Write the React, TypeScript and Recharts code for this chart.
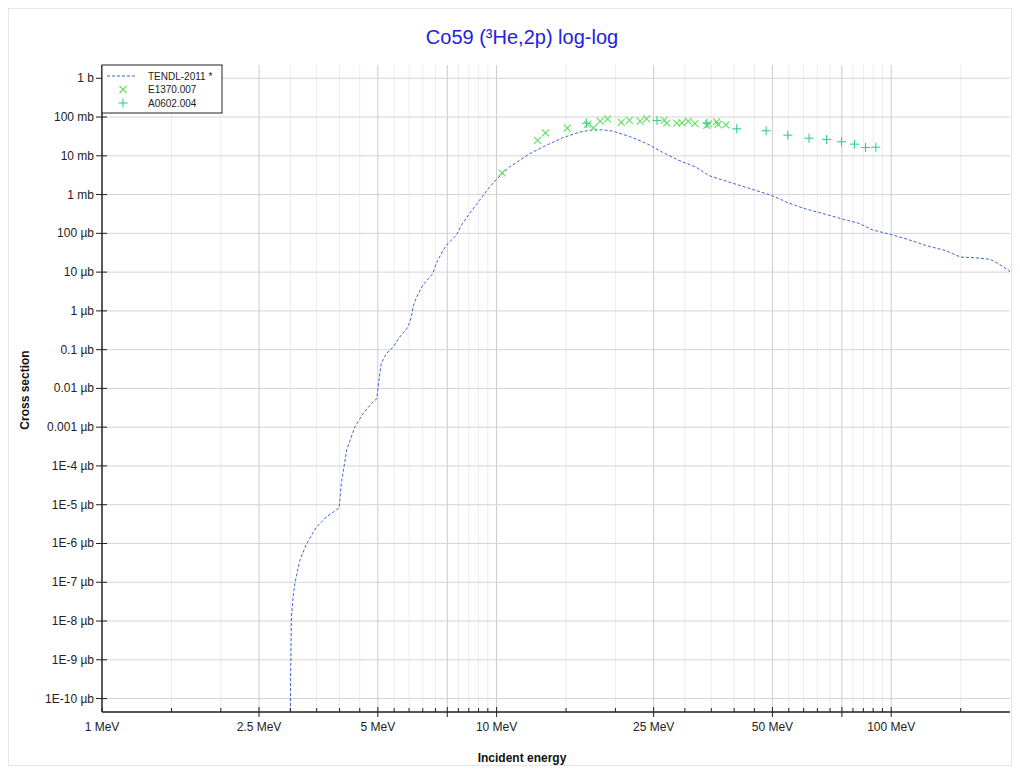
import React from 'react';
import { ComposedChart, Line, Scatter, XAxis, YAxis, ReferenceLine } from 'recharts';

// ---------- data (energy in MeV, cross section in barns) ----------
const tendlEnergy = [3.0, 3.005, 3.02, 3.05, 3.08, 3.17, 3.3, 3.49, 3.7, 3.99, 4.04, 4.17, 4.37, 4.58, 4.86, 4.97, 5.02, 5.1, 5.25, 5.46, 5.68, 5.96, 6.08, 6.14, 6.26, 6.5, 6.89, 7.03, 7.31, 7.52, 7.9, 8.13, 8.53, 9.05, 9.59, 9.97, 10.77, 11.2, 12.1, 13.34, 14.7, 16.2, 17.5, 18.55, 19.7, 21.7, 23.9, 26.3, 29.0, 32.0, 34.5, 38.8, 42.8, 49.8, 55.1, 60.7, 68.2, 75.2, 82.8, 89.5, 100, 110.9, 122.2, 137.2, 149.7, 163.4, 178.3, 187.1, 198.5, 200];
const tendlXs = [1e-18, 2.5e-16, 1.26e-14, 4.2e-14, 9.1e-14, 3.6e-13, 9.8e-13, 2.6e-12, 4.8e-12, 8.3e-12, 3.5e-11, 2.6e-10, 1.0e-9, 2.2e-9, 4.5e-9, 5.4e-9, 1.3e-8, 4.4e-8, 7.8e-8, 1.15e-7, 2.1e-7, 3.8e-7, 6.9e-7, 1.26e-6, 2.2e-6, 4.6e-6, 9.1e-6, 1.66e-5, 3.6e-5, 5.4e-5, 8.9e-5, 1.58e-4, 3.2e-4, 7.1e-4, 1.55e-3, 2.4e-3, 5.1e-3, 6.6e-3, 1.12e-2, 1.85e-2, 2.92e-2, 4.07e-2, 4.68e-2, 4.68e-2, 4.33e-2, 3.16e-2, 2.12e-2, 1.24e-2, 7.6e-3, 5.1e-3, 3.1e-3, 2.1e-3, 1.55e-3, 9.5e-4, 6.0e-4, 4.27e-4, 3.1e-4, 2.34e-4, 1.82e-4, 1.23e-4, 9.3e-5, 6.8e-5, 4.9e-5, 3.6e-5, 2.45e-5, 2.34e-5, 2.14e-5, 1.64e-5, 1.1e-5, 1.0e-5];

const e1370Energy = [10.32, 12.7, 13.3, 15.1, 17.0, 17.6, 18.3, 19.1, 20.7, 21.7, 23.1, 24.0, 26.6, 27.0, 28.6, 29.5, 30.6, 31.8, 34.1, 34.4, 36.1, 36.4, 38.1];
const e1370Xs = [3.63e-3, 2.49e-2, 3.93e-2, 5.16e-2, 6.46e-2, 5.28e-2, 7.83e-2, 9.0e-2, 7.24e-2, 8.17e-2, 7.83e-2, 9.0e-2, 8.17e-2, 6.95e-2, 6.95e-2, 7.1e-2, 7.7e-2, 6.8e-2, 6.07e-2, 6.7e-2, 7.55e-2, 6.46e-2, 6.3e-2];

const a0602Energy = [16.9, 25.5, 34.1, 40.6, 48.2, 54.7, 61.9, 68.6, 74.8, 80.7, 86.1, 91.4];
const a0602Xs = [6.95e-2, 8.17e-2, 6.95e-2, 4.98e-2, 4.43e-2, 3.41e-2, 2.85e-2, 2.64e-2, 2.3e-2, 2.0e-2, 1.64e-2, 1.67e-2];

// ---------- ticks ----------
const xTickValues = [1, 1.5, 2, 2.5, 3, 3.5, 4, 4.5, 5, 5.5, 6, 6.5, 7, 7.5, 8, 8.5, 9, 9.5, 10, 15, 20, 25, 30, 35, 40, 45, 50, 55, 60, 65, 70, 75, 80, 85, 90, 95, 100, 150];
const xMajorValues = [2.5, 5, 7.5, 10, 25, 50, 75, 100];
const xLabelValues = [1, 2.5, 5, 10, 25, 50, 100];
const xLabels = ['1 MeV', '2.5 MeV', '5 MeV', '10 MeV', '25 MeV', '50 MeV', '100 MeV'];

const yTickValues = [1, 1e-1, 1e-2, 1e-3, 1e-4, 1e-5, 1e-6, 1e-7, 1e-8, 1e-9, 1e-10, 1e-11, 1e-12, 1e-13, 1e-14, 1e-15, 1e-16];
const yLabels = ['1 b', '100 mb', '10 mb', '1 mb', '100 µb', '10 µb', '1 µb', '0.1 µb', '0.01 µb', '0.001 µb', '1E-4 µb', '1E-5 µb', '1E-6 µb', '1E-7 µb', '1E-8 µb', '1E-9 µb', '1E-10 µb'];

const xDomain = [1, 200];
const yDomain = [4.5e-17, 2.2];

const tendl = tendlEnergy.map((x, i) => ({ x, y: tendlXs[i] }));
const e1370 = e1370Energy.map((x, i) => ({ x, y: e1370Xs[i] }));
const a0602 = a0602Energy.map((x, i) => ({ x, y: a0602Xs[i] }));

const FONT = '"Liberation Sans", Arial, Helvetica, sans-serif';
const AXIS = '#222';
const LINE_COLOR = '#3f62e0';
const X_COLOR = '#5ee05e';
const PLUS_COLOR = '#35cf8e';

const near = (a: number, b: number) => Math.abs(a - b) <= Math.abs(b) * 1e-6;
const idxOf = (arr: number[], v: number) => arr.findIndex((a) => near(v, a));

const BottomTick = (props: any) => {
  const { x, y, payload } = props;
  const v = payload.value;
  const major = idxOf(xMajorValues, v) >= 0;
  const li = idxOf(xLabelValues, v);
  return (
    <g>
      {major ? (
        <line x1={x} x2={x} y1={y - 5} y2={y + 5} stroke={AXIS} strokeWidth={1} />
      ) : (
        <line x1={x} x2={x} y1={y - 4} y2={y} stroke={AXIS} strokeWidth={1} />
      )}
      {li >= 0 && (
        <text x={x} y={y + 19} textAnchor="middle" fontSize={12} fontFamily={FONT} fill="#222">
          {xLabels[li]}
        </text>
      )}
    </g>
  );
};

const TopTick = (props: any) => {
  const { x, y, payload } = props;
  const major = idxOf(xMajorValues, payload.value) >= 0;
  return <line x1={x} x2={x} y1={y} y2={y + (major ? 5 : 4)} stroke={AXIS} strokeWidth={1} />;
};

const LeftTick = (props: any) => {
  const { x, y, payload } = props;
  const i = idxOf(yTickValues, payload.value);
  return (
    <g>
      <line x1={x - 6} x2={x + 5} y1={y} y2={y} stroke={AXIS} strokeWidth={1} />
      <text x={x - 8} y={y + 4} textAnchor="end" fontSize={12} fontFamily={FONT} fill="#222">
        {i >= 0 ? yLabels[i] : ''}
      </text>
    </g>
  );
};

const RightTick = (props: any) => {
  const { x, y } = props;
  return <line x1={x - 5} x2={x} y1={y} y2={y} stroke={AXIS} strokeWidth={1} />;
};

const XMark = (props: any) => {
  const { cx, cy } = props;
  const s = 3.5;
  return (
    <g stroke={X_COLOR} strokeWidth={1.1}>
      <line x1={cx - s} y1={cy - s} x2={cx + s} y2={cy + s} />
      <line x1={cx - s} y1={cy + s} x2={cx + s} y2={cy - s} />
    </g>
  );
};

const PlusMark = (props: any) => {
  const { cx, cy } = props;
  const s = 4.5;
  return (
    <g stroke={PLUS_COLOR} strokeWidth={1.1}>
      <line x1={cx - s} y1={cy} x2={cx + s} y2={cy} />
      <line x1={cx} y1={cy - s} x2={cx} y2={cy + s} />
    </g>
  );
};

export default function App() {
  return (
    <div
      style={{
        position: 'relative',
        width: 1004,
        height: 758,
        border: '1px solid #e6e6e6',
        boxSizing: 'border-box',
        background: '#fff',
        fontFamily: FONT,
      }}
    >
      <ComposedChart width={1002} height={756} margin={{ top: 56, right: 1, bottom: 0, left: 0 }}>
        <XAxis
          dataKey="x"
          type="number"
          scale="log"
          domain={xDomain}
          allowDataOverflow
          ticks={xTickValues}
          interval={0}
          tick={<BottomTick />}
          tickLine={false}
          tickSize={0}
          tickMargin={0}
          height={53}
          axisLine={{ stroke: AXIS, strokeWidth: 1.5 }}
        />
        <XAxis
          xAxisId="top"
          orientation="top"
          dataKey="x"
          type="number"
          scale="log"
          domain={xDomain}
          allowDataOverflow
          ticks={xTickValues}
          interval={0}
          tick={<TopTick />}
          tickLine={false}
          tickSize={0}
          tickMargin={0}
          height={0}
          axisLine={{ stroke: AXIS, strokeWidth: 1.5 }}
        />
        <YAxis
          type="number"
          scale="log"
          domain={yDomain}
          allowDataOverflow
          ticks={yTickValues}
          interval={0}
          tick={<LeftTick />}
          tickLine={false}
          tickSize={0}
          tickMargin={0}
          width={93}
          axisLine={{ stroke: AXIS, strokeWidth: 1.5 }}
        />
        <YAxis
          yAxisId="right"
          orientation="right"
          type="number"
          scale="log"
          domain={yDomain}
          allowDataOverflow
          ticks={yTickValues}
          interval={0}
          tick={<RightTick />}
          tickLine={false}
          tickSize={0}
          tickMargin={0}
          width={0}
          axisLine={{ stroke: AXIS, strokeWidth: 2 }}
        />
        {xTickValues
          .filter((v) => v > 1)
          .map((v) => (
            <ReferenceLine
              key={'vx' + v}
              x={v}
              stroke={idxOf(xMajorValues, v) >= 0 ? '#cbcbcb' : '#ededed'}
              strokeWidth={1}
              ifOverflow="hidden"
            />
          ))}
        {yTickValues.map((v) => (
          <ReferenceLine key={'hy' + v} y={v} stroke="#d4d4d4" strokeWidth={1} ifOverflow="hidden" />
        ))}
        <Line
          data={tendl}
          dataKey="y"
          type="linear"
          stroke={LINE_COLOR}
          strokeWidth={1}
          strokeDasharray="3 2"
          dot={false}
          activeDot={false}
          isAnimationActive={false}
        />
        <Scatter data={e1370} dataKey="y" shape={<XMark />} isAnimationActive={false} />
        <Scatter data={a0602} dataKey="y" shape={<PlusMark />} isAnimationActive={false} />
      </ComposedChart>

      <svg
        width={1002}
        height={756}
        style={{ position: 'absolute', left: 0, top: 0, pointerEvents: 'none' }}
      >
        <text x={513} y={35} textAnchor="middle" fontSize={20} fontFamily={FONT} fill="#2222dd">
          Co59 (³He,2p) log-log
        </text>
        <text x={513} y={753} textAnchor="middle" fontSize={12} fontWeight="bold" fontFamily={FONT} fill="#111">
          Incident energy
        </text>
        <text
          x={20}
          y={381}
          textAnchor="middle"
          fontSize={12}
          fontWeight="bold"
          fontFamily={FONT}
          fill="#111"
          transform="rotate(-90, 20, 381)"
        >
          Cross section
        </text>
        <g transform="translate(93, 56)">
          <rect x={0} y={0} width={120} height={48} fill="#fff" stroke="#222" strokeWidth={1} />
          <line x1={5} x2={34} y1={11} y2={11} stroke={LINE_COLOR} strokeWidth={1} strokeDasharray="3 2" />
          <text x={46} y={14.5} fontSize={10} fontFamily={FONT} fill="#222">TENDL-2011 *</text>
          <XMark cx={21} cy={24.5} />
          <text x={46} y={28} fontSize={10} fontFamily={FONT} fill="#222">E1370.007</text>
          <PlusMark cx={21} cy={38} />
          <text x={46} y={41.5} fontSize={10} fontFamily={FONT} fill="#222">A0602.004</text>
        </g>
      </svg>
    </div>
  );
}
